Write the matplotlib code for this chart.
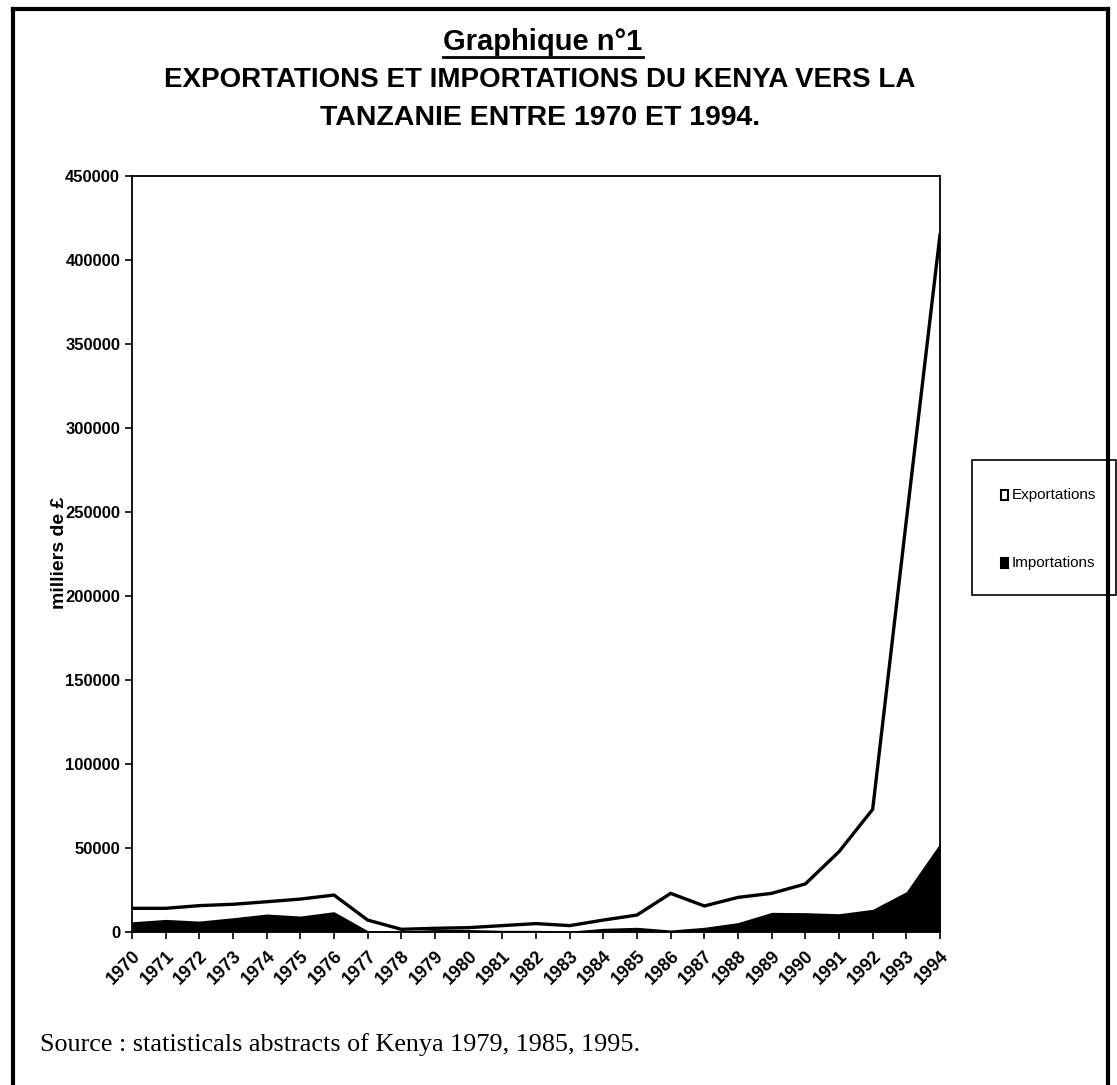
import matplotlib
matplotlib.use("Agg")
import matplotlib.pyplot as plt
from matplotlib.lines import Line2D
from matplotlib.patches import Rectangle
import numpy as np

years = list(range(1970, 1995))
year_labels = [str(y) for y in years]
exportations = [14100, 14100, 15700, 16500, 18000, 19600, 22000, 7100, 1600, 2200,
                2600, 3800, 5000, 3800, 7100, 10100, 23000, 15500, 20600, 23000,
                28600, 47800, 73000, 245000, 415000]
importations = [6100, 7500, 6500, 8500, 10700, 9500, 12100, 800, 500, 1500,
                1500, 1000, 1000, 500, 2200, 2800, 1200, 2800, 5600, 11700,
                11500, 10900, 13500, 24000, 52800]
y_ticks = [0, 50000, 100000, 150000, 200000, 250000, 300000, 350000, 400000, 450000]

NARROW = ['Liberation Sans Narrow', 'Liberation Sans', 'DejaVu Sans']
SERIF = ['Liberation Serif', 'DejaVu Serif']

W, H = 1117, 1085
fig = plt.figure(figsize=(W / 100, H / 100), dpi=100)
ax = fig.add_axes([132 / W, 1 - 932 / H, (940 - 132) / W, (932 - 176) / H])

x = np.arange(len(years))
ax.fill_between(x, 0, exportations, color='white', zorder=1)
ax.plot(x, exportations, color='black', lw=2.4, zorder=3, solid_joinstyle='miter')
ax.fill_between(x, 0, importations, color='black', lw=0, zorder=2)

ax.set_xlim(0, len(years) - 1)
ax.set_ylim(0, 450000)
ax.set_yticks(y_ticks)
ax.set_yticklabels([str(v) for v in y_ticks], fontfamily=NARROW, fontweight='bold', fontsize=12)
ax.set_xticks(x)
ax.set_xticklabels(year_labels, rotation=45, ha='right', va='top', rotation_mode='anchor',
                   fontfamily=NARROW, fontweight='bold', fontsize=13)
ax.tick_params(axis='both', direction='out', length=5, width=1.2, color='black')
ax.tick_params(axis='x', pad=6)
for s in ax.spines.values():
    s.set_linewidth(1.3)
    s.set_color('black')

fig.text(60 / W, 1 - 553 / H, 'milliers de £', rotation=90, ha='center', va='center',
         fontfamily=NARROW, fontweight='bold', fontsize=14)

# Titles
t1 = fig.text(543 / W, 1 - 42 / H, 'Graphique n°1', ha='center', va='center',
              fontfamily=NARROW, fontweight='bold', fontsize=21)
fig.text(540 / W, 1 - 80 / H, 'EXPORTATIONS ET IMPORTATIONS DU KENYA VERS LA', ha='center',
         va='center', fontfamily=NARROW, fontweight='bold', fontsize=20)
fig.text(540 / W, 1 - 118 / H, 'TANZANIE ENTRE 1970 ET 1994.', ha='center',
         va='center', fontfamily=NARROW, fontweight='bold', fontsize=20.5)

fig.canvas.draw()
bb = t1.get_window_extent().transformed(fig.transFigure.inverted())
fig.add_artist(Line2D([bb.x0, bb.x1], [bb.y0 - 0.001, bb.y0 - 0.001], color='black', lw=2,
                      transform=fig.transFigure))

# Legend
leg_box = Rectangle((972 / W, 1 - 595 / H), (1116 - 972) / W, (595 - 460) / H,
                    transform=fig.transFigure, fill=False, ec='black', lw=1.2)
fig.add_artist(leg_box)
for label, fc, yy in [('Exportations', 'white', 495), ('Importations', 'black', 563)]:
    fig.add_artist(Rectangle((1001 / W, 1 - (yy + 5) / H), 7 / W, 10 / H, transform=fig.transFigure,
                             fc=fc, ec='black', lw=1.5))
    fig.text(1012 / W, 1 - yy / H, label, ha='left', va='center', fontfamily=NARROW, fontsize=11)

# Source
fig.text(40 / W, 1 - 1045 / H, 'Source : statisticals abstracts of Kenya 1979, 1985, 1995.',
         ha='left', va='center', fontfamily=SERIF, fontsize=18.8)

# Outer frame
for xs, ys in [([13, 13], [9, H]), ([13, 1108], [9, 9]), ([1108, 1108], [9, H])]:
    fig.add_artist(Line2D([v / W for v in xs], [1 - v / H for v in ys], color='black', lw=3,
                          transform=fig.transFigure))

fig.savefig('out.png', dpi=100)
